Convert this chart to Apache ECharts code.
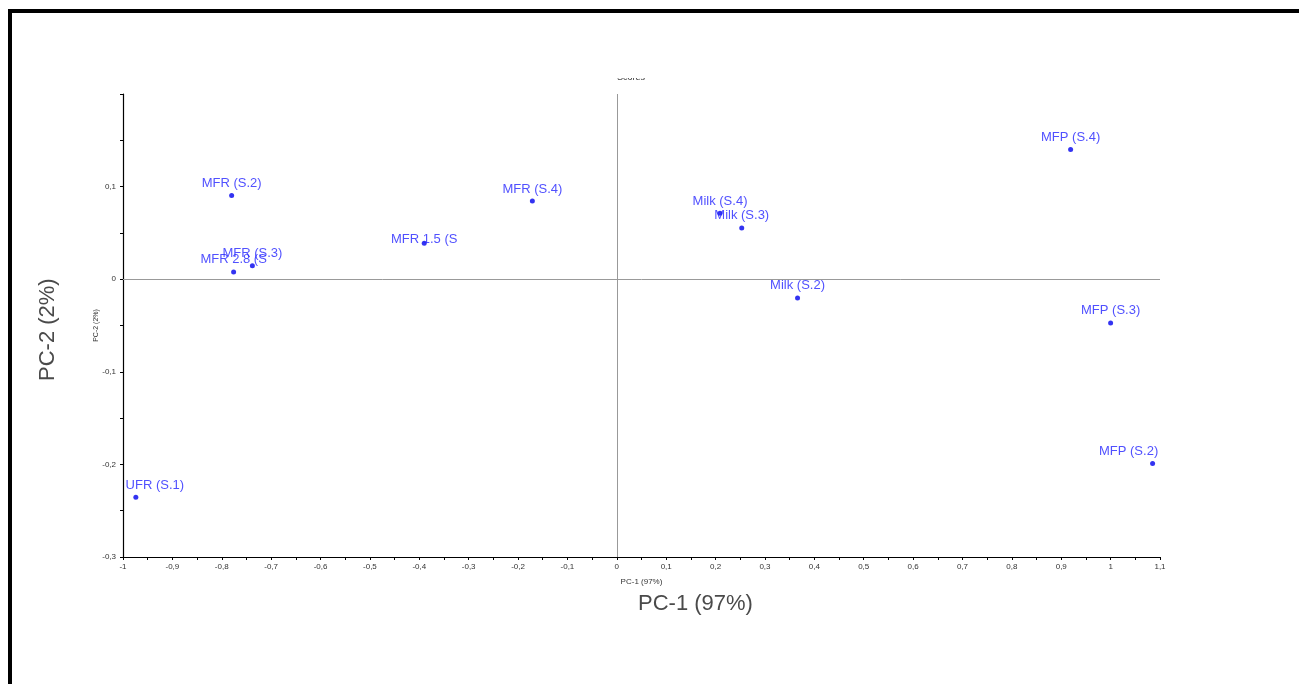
<!DOCTYPE html>
<html>
<head>
<meta charset="utf-8">
<script src="https://cdn.jsdelivr.net/npm/echarts@6/dist/echarts.min.js"></script>
<style>
html,body{margin:0;padding:0;background:#fff;}
#chart{width:1299px;height:684px;}
</style>
</head>
<body>
<div id="chart"></div>
<script>
// ---- data ----
const sampleNames = ["MFR (S.2)", "MFR (S.3)", "MFR 2.8 (S", "MFR 1.5 (S", "MFR (S.4)", "Milk (S.4)", "Milk (S.3)", "Milk (S.2)", "MFP (S.4)", "MFP (S.3)", "MFP (S.2)", "UFR (S.1)"];
const pc1Scores = [-0.780, -0.738, -0.776, -0.390, -0.171, 0.209, 0.253, 0.366, 0.919, 1.000, 1.085, -0.974];
const pc2Scores = [0.0903, 0.0144, 0.0079, 0.0388, 0.0845, 0.0712, 0.0554, -0.0202, 0.140, -0.0472, -0.199, -0.2356];
const xAxisTitle = "PC-1 (97%)";
const yAxisTitle = "PC-2 (2%)";
const chartTitle = "Scores";

// label placement tweaks (style only)
const labelOffsets = { "UFR (S.1)": [19, 0], "MFR 1.5 (S": [0, 8], "MFP (S.2)": [-24, 0] };

const fmt = v => {
  const r = Math.round(v * 10) / 10;
  if (Math.abs(r) < 1e-9) return "0";
  return String(r).replace('.', ',');
};

const points = sampleNames.map((n, i) => {
  const p = { name: n, value: [pc1Scores[i], pc2Scores[i]] };
  if (labelOffsets[n]) p.label = { offset: labelOffsets[n] };
  return p;
});

const chart = echarts.init(document.getElementById('chart'), null, { renderer: 'canvas' });
const axisCommon = {
  axisLine: { show: true, onZero: false, lineStyle: { color: '#000', width: 1.2 } },
  axisTick: { show: true, inside: false, length: 3, lineStyle: { color: '#000' } },
  minorTick: { show: true, splitNumber: 2, length: 3, lineStyle: { color: '#000' } },
  splitLine: { show: false },
  nameMoveOverlap: false,
  axisLabel: { color: '#333', fontSize: 8, fontFamily: 'Liberation Sans, Arial, sans-serif' },
  nameTextStyle: { color: '#333', fontSize: 8, fontFamily: 'Liberation Sans, Arial, sans-serif' }
};

chart.setOption({
  animation: false,
  backgroundColor: '#fff',
  grid: { left: 123, right: 139, top: 94, bottom: 127, containLabel: false },
  xAxis: Object.assign({}, axisCommon, {
    type: 'value', min: -1, max: 1.1, interval: 0.1,
    name: xAxisTitle, nameLocation: 'middle', nameGap: 21,
    axisLabel: Object.assign({}, axisCommon.axisLabel, { margin: 6, formatter: fmt })
  }),
  yAxis: Object.assign({}, axisCommon, {
    type: 'value', min: -0.3, max: 0.2, interval: 0.1,
    name: yAxisTitle, nameLocation: 'middle', nameGap: 23,
    nameTextStyle: Object.assign({}, axisCommon.nameTextStyle, { fontSize: 7 }),
    axisLabel: Object.assign({}, axisCommon.axisLabel, {
      margin: 7,
      formatter: v => (v > 0.15 ? '' : fmt(v))
    })
  }),
  series: [{
    type: 'scatter',
    symbol: 'circle',
    symbolSize: 5,
    itemStyle: { color: '#0000ee' },
    label: {
      show: true, position: 'top', distance: 3,
      formatter: p => p.name,
      color: '#2424ff', fontSize: 13, fontFamily: 'Liberation Sans, Arial, sans-serif'
    },
    data: points,
    markLine: {
      silent: true, symbol: 'none', animation: false,
      label: { show: false },
      lineStyle: { color: '#999', width: 1, type: 'solid' },
      data: [{ xAxis: 0 }, { yAxis: 0 }]
    }
  }],
  graphic: [
    { type: 'text', z: 1, top: 73, left: 617,
      style: { text: chartTitle, fontSize: 9, fill: '#333', fontFamily: 'Liberation Sans, Arial, sans-serif' } },
    { type: 'rect', z: 5, shape: { x: 0, y: 0, width: 1299, height: 78 }, style: { fill: '#fff' } },
    { type: 'text', z: 10, left: 638, top: 593,
      style: { text: xAxisTitle, fontSize: 22, fill: '#4a4a4a', fontFamily: 'Liberation Sans, Arial, sans-serif' } },
    { type: 'text', z: 10, rotation: Math.PI / 2, x: 37, y: 381,
      style: { text: yAxisTitle, fontSize: 22, fill: '#4a4a4a', fontFamily: 'Liberation Sans, Arial, sans-serif' } },
    { type: 'rect', z: 20, shape: { x: 8, y: 9, width: 1291, height: 4 }, style: { fill: '#000' } },
    { type: 'rect', z: 20, shape: { x: 8, y: 9, width: 4, height: 675 }, style: { fill: '#000' } }
  ]
});
</script>
</body>
</html>
